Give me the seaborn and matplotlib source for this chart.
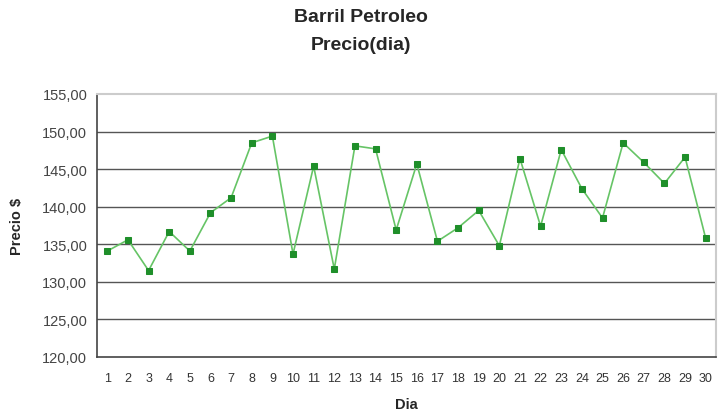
import matplotlib
matplotlib.use("Agg")
import matplotlib.pyplot as plt
import seaborn as sns
import pandas as pd
import numpy as np
from matplotlib.ticker import FuncFormatter, FixedLocator

dias = list(range(1, 31))
precios = [134.1, 135.6, 131.5, 136.7, 134.1, 139.2, 141.2, 148.5, 149.4, 133.7,
           145.4, 131.7, 148.1, 147.7, 136.9, 145.7, 135.4, 137.2, 139.5, 134.8,
           146.4, 137.4, 147.6, 142.4, 138.5, 148.5, 145.9, 143.1, 146.6, 135.8]
y_ticks = [120, 125, 130, 135, 140, 145, 150, 155]

sns.set_style("white")
plt.rcParams['font.family'] = ['Liberation Sans', 'DejaVu Sans']

df = pd.DataFrame({"Dia": dias, "Precio": precios})

fig = plt.figure(figsize=(7.23, 4.14), dpi=100)
ax = fig.add_axes([97/723, 1 - 358/414, (716 - 97)/723, (358 - 95)/414])

for v in y_ticks[1:-1]:
    ax.axhline(v, color="#555555", lw=1.0, zorder=1)

sns.lineplot(data=df, x="Dia", y="Precio", ax=ax, color="#66c466", lw=1.2,
             marker="s", markersize=4.2, markerfacecolor="#1f8f2a",
             markeredgecolor="#1f8f2a", zorder=3)

ax.set_xlim(0.5, 30.5)
ax.set_ylim(120, 155)
ax.set_yticks(y_ticks)
ax.yaxis.set_major_formatter(FuncFormatter(lambda v, p: f"{v:.2f}".replace(".", ",")))
ax.set_xticks(dias)
ax.set_xticklabels([str(d) for d in dias])
ax.xaxis.set_minor_locator(FixedLocator(np.arange(0.5, 31, 1)))
ax.tick_params(axis="x", which="major", length=0, pad=10.5, labelsize=9, colors="#333333")
ax.tick_params(axis="x", which="minor", length=4, direction="out", color="#444444", width=1)
ax.tick_params(axis="y", which="major", length=5, direction="out", color="#444444",
               width=1, labelsize=10.5, labelcolor="#444444", pad=2)

for s in ["left", "bottom"]:
    ax.spines[s].set_color("#444444")
    ax.spines[s].set_linewidth(1.2)
for s in ["top", "right"]:
    ax.spines[s].set_color("#cccccc")
    ax.spines[s].set_linewidth(1.5)

ax.set_xlabel("Dia", fontsize=10.5, fontweight="bold", labelpad=10)
ax.set_ylabel("Precio $", fontsize=10.5, fontweight="bold", labelpad=13)
fig.text(361/723, 1 - 18/414, "Barril Petroleo", ha="center", va="center",
         fontsize=14, fontweight="bold")
fig.text(361/723, 1 - 45/414, "Precio(dia)", ha="center", va="center",
         fontsize=14, fontweight="bold")

fig.savefig("out.png", dpi=100)
